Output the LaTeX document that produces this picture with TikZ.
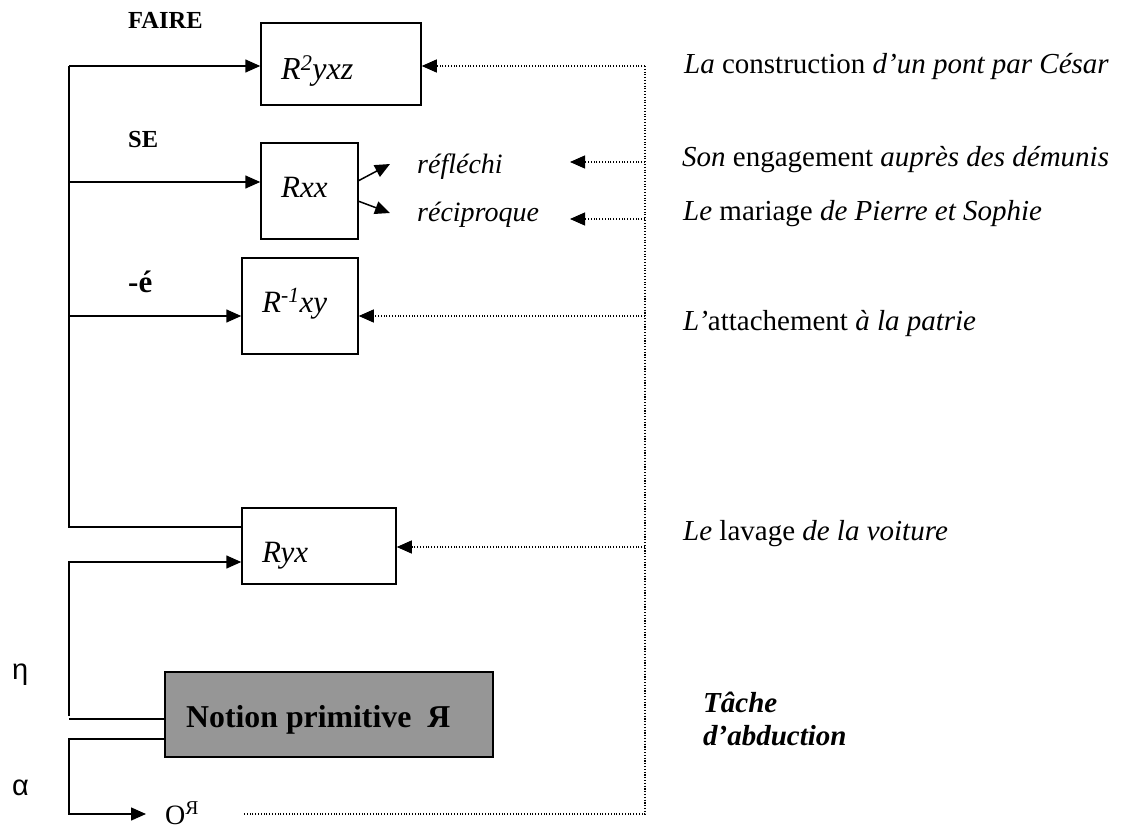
\documentclass[tikz,border=0pt]{standalone}
\usepackage{fontspec}
\setmainfont{Liberation Serif}
\newfontfamily\sansgr{Liberation Sans}
\usetikzlibrary{arrows.meta}
\newcommand\myfs[1]{\fontsize{#1}{#1}\selectfont}
\definecolor{npgray}{RGB}{150,150,150}
\tikzset{
  box/.style={draw, line width=1.5pt, inner sep=0pt},
  txt/.style={anchor=base west, inner sep=0pt},
  conn/.style={line width=1.5pt},
  arr/.style={conn, -{Triangle[length=15pt,width=13pt]}},
  dotline/.style={line width=1.1pt, dash pattern=on 1.1pt off 1.7pt},
  darr/.style={dotline, -{Triangle[length=15pt,width=13pt]}},
}
\begin{document}
\begin{tikzpicture}[x=1pt,y=-1pt]
\useasboundingbox (0,0) rectangle (1121,829);

% boxes
\node[box, minimum width=160pt, minimum height=82pt] (b1) at (341,64) {};
\node[box, minimum width=97pt, minimum height=96pt] (b2) at (309.5,191) {};
\node[box, minimum width=116pt, minimum height=96pt] (b3) at (300,306) {};
\node[box, minimum width=154pt, minimum height=76pt] (b4) at (319,546) {};
\node[box, line width=2pt, fill=npgray, minimum width=328pt, minimum height=85pt] (np) at (329,714.5) {};

% box texts
\node[txt] (l1) at (281,80) {\myfs{32}\textit{R}\textsuperscript{\textit{2}}\textit{yxz}};
\node[txt] (l2) at (281,197) {\myfs{31}\textit{Rxx}};
\node[txt] (l3) at (262,312) {\myfs{31}\textit{R}\textsuperscript{\textit{-1}}\textit{xy}};
\node[txt] (l4) at (262,562) {\myfs{31}\textit{Ryx}};
\node[txt] (lnp) at (186,727) {\myfs{31.8}\textbf{Notion primitive\hspace{0.5em}Я}};

% left labels
\node[txt] (faire) at (128,29) {\myfs{24.5}\textbf{FAIRE}};
\node[txt] (se) at (128,148) {\myfs{24.5}\textbf{SE}};
\node[txt] (ee) at (128,292) {\myfs{31}\textbf{-é}};
\node[txt] (eta) at (12,679) {\myfs{29}\sansgr η};
\node[txt] (alpha) at (12,795) {\myfs{29}\sansgr α};
\node[txt] (ov) at (165,824) {\myfs{28}O\textsuperscript{Я}};

% reflexive / reciprocal
\node[txt] (refl) at (417,174) {\myfs{28}\textit{réfléchi}};
\node[txt] (reci) at (417,221) {\myfs{28}\textit{réciproque}};

% right texts
\node[txt] (x1) at (684,74) {\myfs{29}\textit{La} construction \textit{d'un pont par César}};
\node[txt] (x2) at (682,167) {\myfs{29}\textit{Son} engagement \textit{auprès des démunis}};
\node[txt] (x3) at (683,220) {\myfs{29}\textit{Le} mariage \textit{de Pierre et Sophie}};
\node[txt] (x4) at (683,330) {\myfs{29}\textit{L'}attachement \textit{à la patrie}};
\node[txt] (x5) at (683,540) {\myfs{29}\textit{Le} lavage \textit{de la voiture}};
\node[txt] (x6) at (703,712) {\myfs{29}\textbf{\textit{Tâche}}};
\node[txt] (x7) at (703,745) {\myfs{29}\textbf{\textit{d'abduction}}};

% coordinates
\coordinate (t1) at (69,66);
\coordinate (t2) at (69,182);
\coordinate (t3) at (69,316);
\coordinate (tb) at (69,527);
\coordinate (e1) at (69,562);
\coordinate (e0) at (69,716);
\coordinate (h1) at (69,719);
\coordinate (a0) at (69,739);
\coordinate (a1) at (69,814);
\coordinate (oarr) at (146,814);
\coordinate (bx1) at (358,181);
\coordinate (bx2) at (358,201);
\coordinate (r1t) at (390,164);
\coordinate (r2t) at (390,213);
\coordinate (d1) at (645,66);
\coordinate (d2) at (645,162);
\coordinate (d3) at (645,219);
\coordinate (d4) at (645,316);
\coordinate (d5) at (645,547);
\coordinate (d6) at (645,814);
\coordinate (dend) at (244,814);
\coordinate (r1) at (570,162);
\coordinate (r2) at (570,219);

% solid connectors
\draw[conn] (t1) -- (tb) -- (tb -| b4.west);
\draw[arr] (t1) -- (t1 -| b1.west);
\draw[arr] (t2) -- (t2 -| b2.west);
\draw[arr] (t3) -- (t3 -| b3.west);
\draw[arr] (e0) -- (e1) -- (e1 -| b4.west);
\draw[conn] (h1 -| np.west) -- (h1);
\draw[arr] (a0 -| np.west) -- (a0) -- (a1) -- (oarr);
\draw[arr] (bx1) -- (r1t);
\draw[arr] (bx2) -- (r2t);

% dotted connectors
\draw[dotline] (d1) -- (d6) -- (dend);
\draw[darr] (d1) -- (d1 -| b1.east);
\draw[darr] (d2) -- (r1);
\draw[darr] (d3) -- (r2);
\draw[darr] (d4) -- (d4 -| b3.east);
\draw[darr] (d5) -- (d5 -| b4.east);
\end{tikzpicture}
\end{document}
